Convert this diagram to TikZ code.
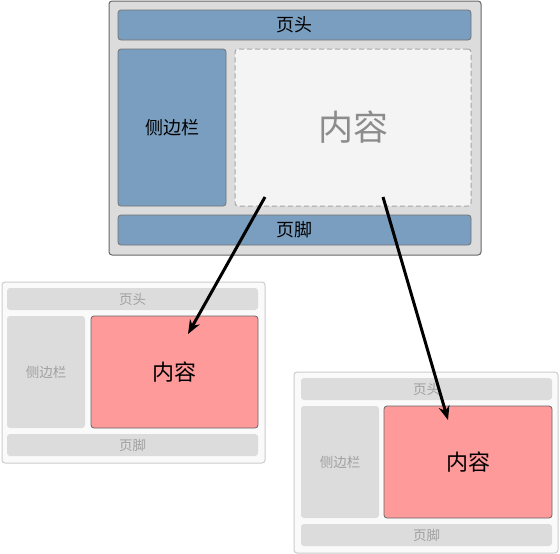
\documentclass[tikz,border=0pt]{standalone}
\usepackage{fontspec}
\newfontfamily\cjk{Noto Sans CJK SC}
\usetikzlibrary{arrows.meta}
\definecolor{framegray}{HTML}{DCDCDC}
\definecolor{paneblue}{HTML}{7A9EBF}
\definecolor{paleback}{HTML}{F4F4F4}
\definecolor{softgray}{HTML}{DCDCDC}
\definecolor{fadetext}{HTML}{A0A0A0}
\definecolor{hotred}{HTML}{FF9A9A}
\begin{document}
\begin{tikzpicture}[x=1pt,y=-1pt,
	box/.style={rounded corners=3pt, inner sep=0pt, outer sep=0pt},
	bigframe/.style={box, fill=framegray, draw=black!60, line width=1pt},
	bluepane/.style={box, fill=paneblue, draw=black!55, line width=0.8pt, font=\cjk\fontsize{18}{18}\selectfont},
	ghost/.style={box, fill=paleback, draw=black!35, dash pattern=on 5pt off 3pt, line width=1pt, font=\cjk\fontsize{35}{35}\selectfont, text=black!45},
	smallframe/.style={box, fill=white!98!black, draw=black!20, line width=1pt},
	greypane/.style={box, fill=softgray, font=\cjk\fontsize{13.5}{13.5}\selectfont, text=fadetext},
	redpane/.style={box, fill=hotred, draw=black!60, line width=0.8pt, font=\cjk\fontsize{22}{22}\selectfont},
	arr/.style={-{Stealth[length=14pt,width=11pt]}, line width=3pt}]
	\useasboundingbox (0,0) rectangle (560,554);
	% main layout
	\node[bigframe, minimum width=372pt, minimum height=254pt] (main) at (295,128) {};
	\node[bluepane, minimum width=353pt, minimum height=30pt] (mhead) at (294.5,25) {页头};
	\node[bluepane, minimum width=108pt, minimum height=157pt] (mside) at (172,127.5) {侧边栏};
	\node[ghost, minimum width=236pt, minimum height=157pt] (mcont) at (353,127.5) {内容};
	\node[bluepane, minimum width=353pt, minimum height=30pt] (mfoot) at (294.5,230) {页脚};
	
	% left copy
	\node[smallframe, minimum width=263pt, minimum height=181pt] (left) at (133.5,372.5) {};
	\node[greypane, minimum width=251pt, minimum height=22pt] (lhead) at (132.5,299) {页头};
	\node[greypane, minimum width=78pt, minimum height=112pt] (lside) at (46,372) {侧边栏};
	\node[redpane, minimum width=167pt, minimum height=112pt] (lcont) at (174.5,372) {内容};
	\node[greypane, minimum width=251pt, minimum height=22pt] (lfoot) at (132.5,445) {页脚};
	
	% right copy
	\node[smallframe, minimum width=264pt, minimum height=181pt] (right) at (426,462.5) {};
	\node[greypane, minimum width=251pt, minimum height=22pt] (rhead) at (426.5,389) {页头};
	\node[greypane, minimum width=78pt, minimum height=112pt] (rside) at (340,462) {侧边栏};
	\node[redpane, minimum width=168pt, minimum height=112pt] (rcont) at (468,462) {内容};
	\node[greypane, minimum width=251pt, minimum height=22pt] (rfoot) at (426.5,535) {页脚};
	
	% arrows
	\coordinate (from1) at (265,197);
	\coordinate (to1) at (188,334);
	\coordinate (from2) at (383,197);
	\coordinate (to2) at (448,420);
	\draw[arr] (from1) -- (to1);
	\draw[arr] (from2) -- (to2);
\end{tikzpicture}
\end{document}
